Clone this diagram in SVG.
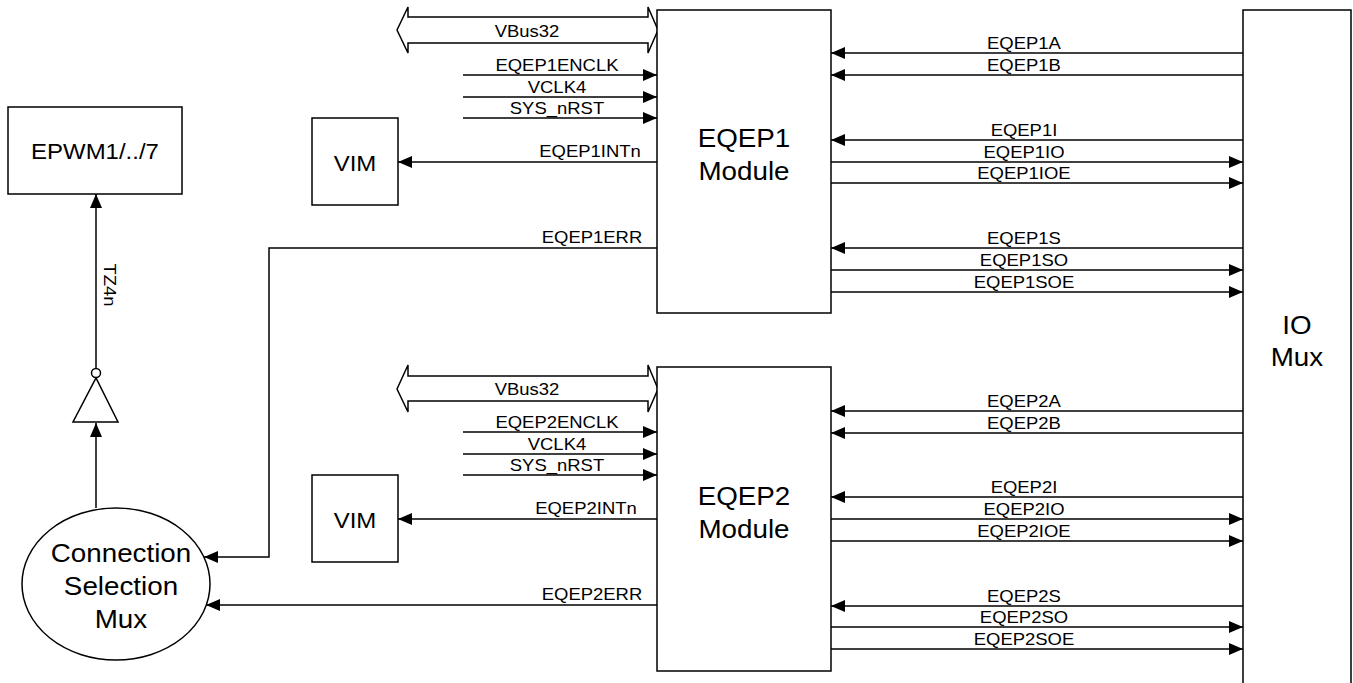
<svg xmlns="http://www.w3.org/2000/svg" width="1353" height="683" viewBox="0 0 1353 683">
<style>
  .box { fill: #fff; stroke: #000; stroke-width: 1.5; }
  .ln { fill: none; stroke: #000; stroke-width: 1.5; }
  .arr { marker-end: url(#ah); }
  text { font-family: "Liberation Sans", Arial, sans-serif; fill: #000; text-anchor: middle; }
  .s { font-size: 16.5px; transform-box: fill-box; transform-origin: center; transform: scaleX(1.12); }
  .b { font-size: 25.5px; transform-box: fill-box; transform-origin: center; transform: scaleX(1.09); }
</style>
<defs>
  <marker id="ah" markerUnits="userSpaceOnUse" markerWidth="14" markerHeight="12" refX="14" refY="6" orient="auto">
    <path d="M0,0 L14,6 L0,12 Z" fill="#000"/>
  </marker>
</defs>

<g id="connectors">
  <!-- EQEP1 left side -->
  <polygon class="box" points="397,30 408,7 408,17 648,17 648,7 658,30 648,53 648,43 408,43 408,53"/>
  <text class="s" x="527" y="37">VBus32</text>
  <line class="ln arr" x1="463" y1="75" x2="657" y2="75"/>
  <text class="s" x="557" y="71">EQEP1ENCLK</text>
  <line class="ln arr" x1="463" y1="97" x2="657" y2="97"/>
  <text class="s" x="557" y="93">VCLK4</text>
  <line class="ln arr" x1="463" y1="118" x2="657" y2="118"/>
  <text class="s" x="557" y="114">SYS_nRST</text>
  <line class="ln arr" x1="657" y1="162" x2="398" y2="162"/>
  <text class="s" x="590" y="157">EQEP1INTn</text>
  <polyline class="ln arr" points="657,248 269,248 269,557 204,557"/>
  <text class="s" x="592" y="243">EQEP1ERR</text>

  <!-- EQEP1 right side -->
  <line class="ln arr" x1="1243" y1="53" x2="831" y2="53"/>
  <text class="s" x="1024" y="49">EQEP1A</text>
  <line class="ln arr" x1="1243" y1="75" x2="831" y2="75"/>
  <text class="s" x="1024" y="71">EQEP1B</text>
  <line class="ln arr" x1="1243" y1="140" x2="831" y2="140"/>
  <text class="s" x="1024" y="136">EQEP1I</text>
  <line class="ln arr" x1="831" y1="162" x2="1243" y2="162"/>
  <text class="s" x="1024" y="158">EQEP1IO</text>
  <line class="ln arr" x1="831" y1="183" x2="1243" y2="183"/>
  <text class="s" x="1024" y="179">EQEP1IOE</text>
  <line class="ln arr" x1="1243" y1="248" x2="831" y2="248"/>
  <text class="s" x="1024" y="244">EQEP1S</text>
  <line class="ln arr" x1="831" y1="270" x2="1243" y2="270"/>
  <text class="s" x="1024" y="266">EQEP1SO</text>
  <line class="ln arr" x1="831" y1="292" x2="1243" y2="292"/>
  <text class="s" x="1024" y="288">EQEP1SOE</text>

  <!-- EQEP2 left side -->
  <polygon class="box" points="397,389 408,365 408,376 648,376 648,365 658,389 648,412 648,401 408,401 408,412"/>
  <text class="s" x="527" y="395">VBus32</text>
  <line class="ln arr" x1="463" y1="432" x2="657" y2="432"/>
  <text class="s" x="557" y="428">EQEP2ENCLK</text>
  <line class="ln arr" x1="463" y1="454" x2="657" y2="454"/>
  <text class="s" x="557" y="450">VCLK4</text>
  <line class="ln arr" x1="463" y1="475" x2="657" y2="475"/>
  <text class="s" x="557" y="471">SYS_nRST</text>
  <line class="ln arr" x1="657" y1="519" x2="398" y2="519"/>
  <text class="s" x="586" y="514">EQEP2INTn</text>
  <line class="ln arr" x1="657" y1="605" x2="206" y2="605"/>
  <text class="s" x="592" y="600">EQEP2ERR</text>

  <!-- EQEP2 right side -->
  <line class="ln arr" x1="1243" y1="411" x2="831" y2="411"/>
  <text class="s" x="1024" y="407">EQEP2A</text>
  <line class="ln arr" x1="1243" y1="433" x2="831" y2="433"/>
  <text class="s" x="1024" y="429">EQEP2B</text>
  <line class="ln arr" x1="1243" y1="497" x2="831" y2="497"/>
  <text class="s" x="1024" y="493">EQEP2I</text>
  <line class="ln arr" x1="831" y1="519" x2="1243" y2="519"/>
  <text class="s" x="1024" y="515">EQEP2IO</text>
  <line class="ln arr" x1="831" y1="541" x2="1243" y2="541"/>
  <text class="s" x="1024" y="537">EQEP2IOE</text>
  <line class="ln arr" x1="1243" y1="606" x2="831" y2="606"/>
  <text class="s" x="1024" y="602">EQEP2S</text>
  <line class="ln arr" x1="831" y1="627" x2="1243" y2="627"/>
  <text class="s" x="1024" y="623">EQEP2SO</text>
  <line class="ln arr" x1="831" y1="649" x2="1243" y2="649"/>
  <text class="s" x="1024" y="645">EQEP2SOE</text>

  <!-- mux to inverter to EPWM -->
  <line class="ln arr" x1="96" y1="508" x2="96" y2="423"/>
  <line class="ln arr" x1="96" y1="368" x2="96" y2="194"/>
  <text transform="translate(104,285) rotate(90) scale(1.12,1)" x="0" y="0" style="font-size:16.5px">TZ4n</text>
</g>

<g id="epwm">
  <rect class="box" x="8" y="107" width="174" height="87"/>
  <text class="b" x="95" y="159" style="font-size:22px">EPWM1/../7</text>
</g>

<g id="inverter">
  <polygon class="box" points="73,422 118,422 96,378"/>
  <circle class="box" cx="96" cy="373" r="4.5"/>
</g>

<g id="conn-mux">
  <ellipse class="box" cx="116" cy="584" rx="94" ry="76"/>
  <text class="b" x="121" y="562">Connection</text>
  <text class="b" x="121" y="595">Selection</text>
  <text class="b" x="121" y="628">Mux</text>
</g>

<g id="vim1">
  <rect class="box" x="312" y="118" width="86" height="87"/>
  <text class="b" x="355" y="171" style="font-size:22px">VIM</text>
</g>

<g id="vim2">
  <rect class="box" x="312" y="475" width="86" height="87"/>
  <text class="b" x="355" y="528" style="font-size:22px">VIM</text>
</g>

<g id="eqep1">
  <rect class="box" x="657" y="10" width="174" height="303"/>
  <text class="b" x="744" y="147">EQEP1</text>
  <text class="b" x="744" y="180">Module</text>
</g>

<g id="eqep2">
  <rect class="box" x="657" y="367" width="174" height="304"/>
  <text class="b" x="744" y="505">EQEP2</text>
  <text class="b" x="744" y="538">Module</text>
</g>

<g id="iomux">
  <rect class="box" x="1243" y="10" width="108" height="690"/>
  <text class="b" x="1297" y="334">IO</text>
  <text class="b" x="1297" y="366">Mux</text>
</g>
</svg>
